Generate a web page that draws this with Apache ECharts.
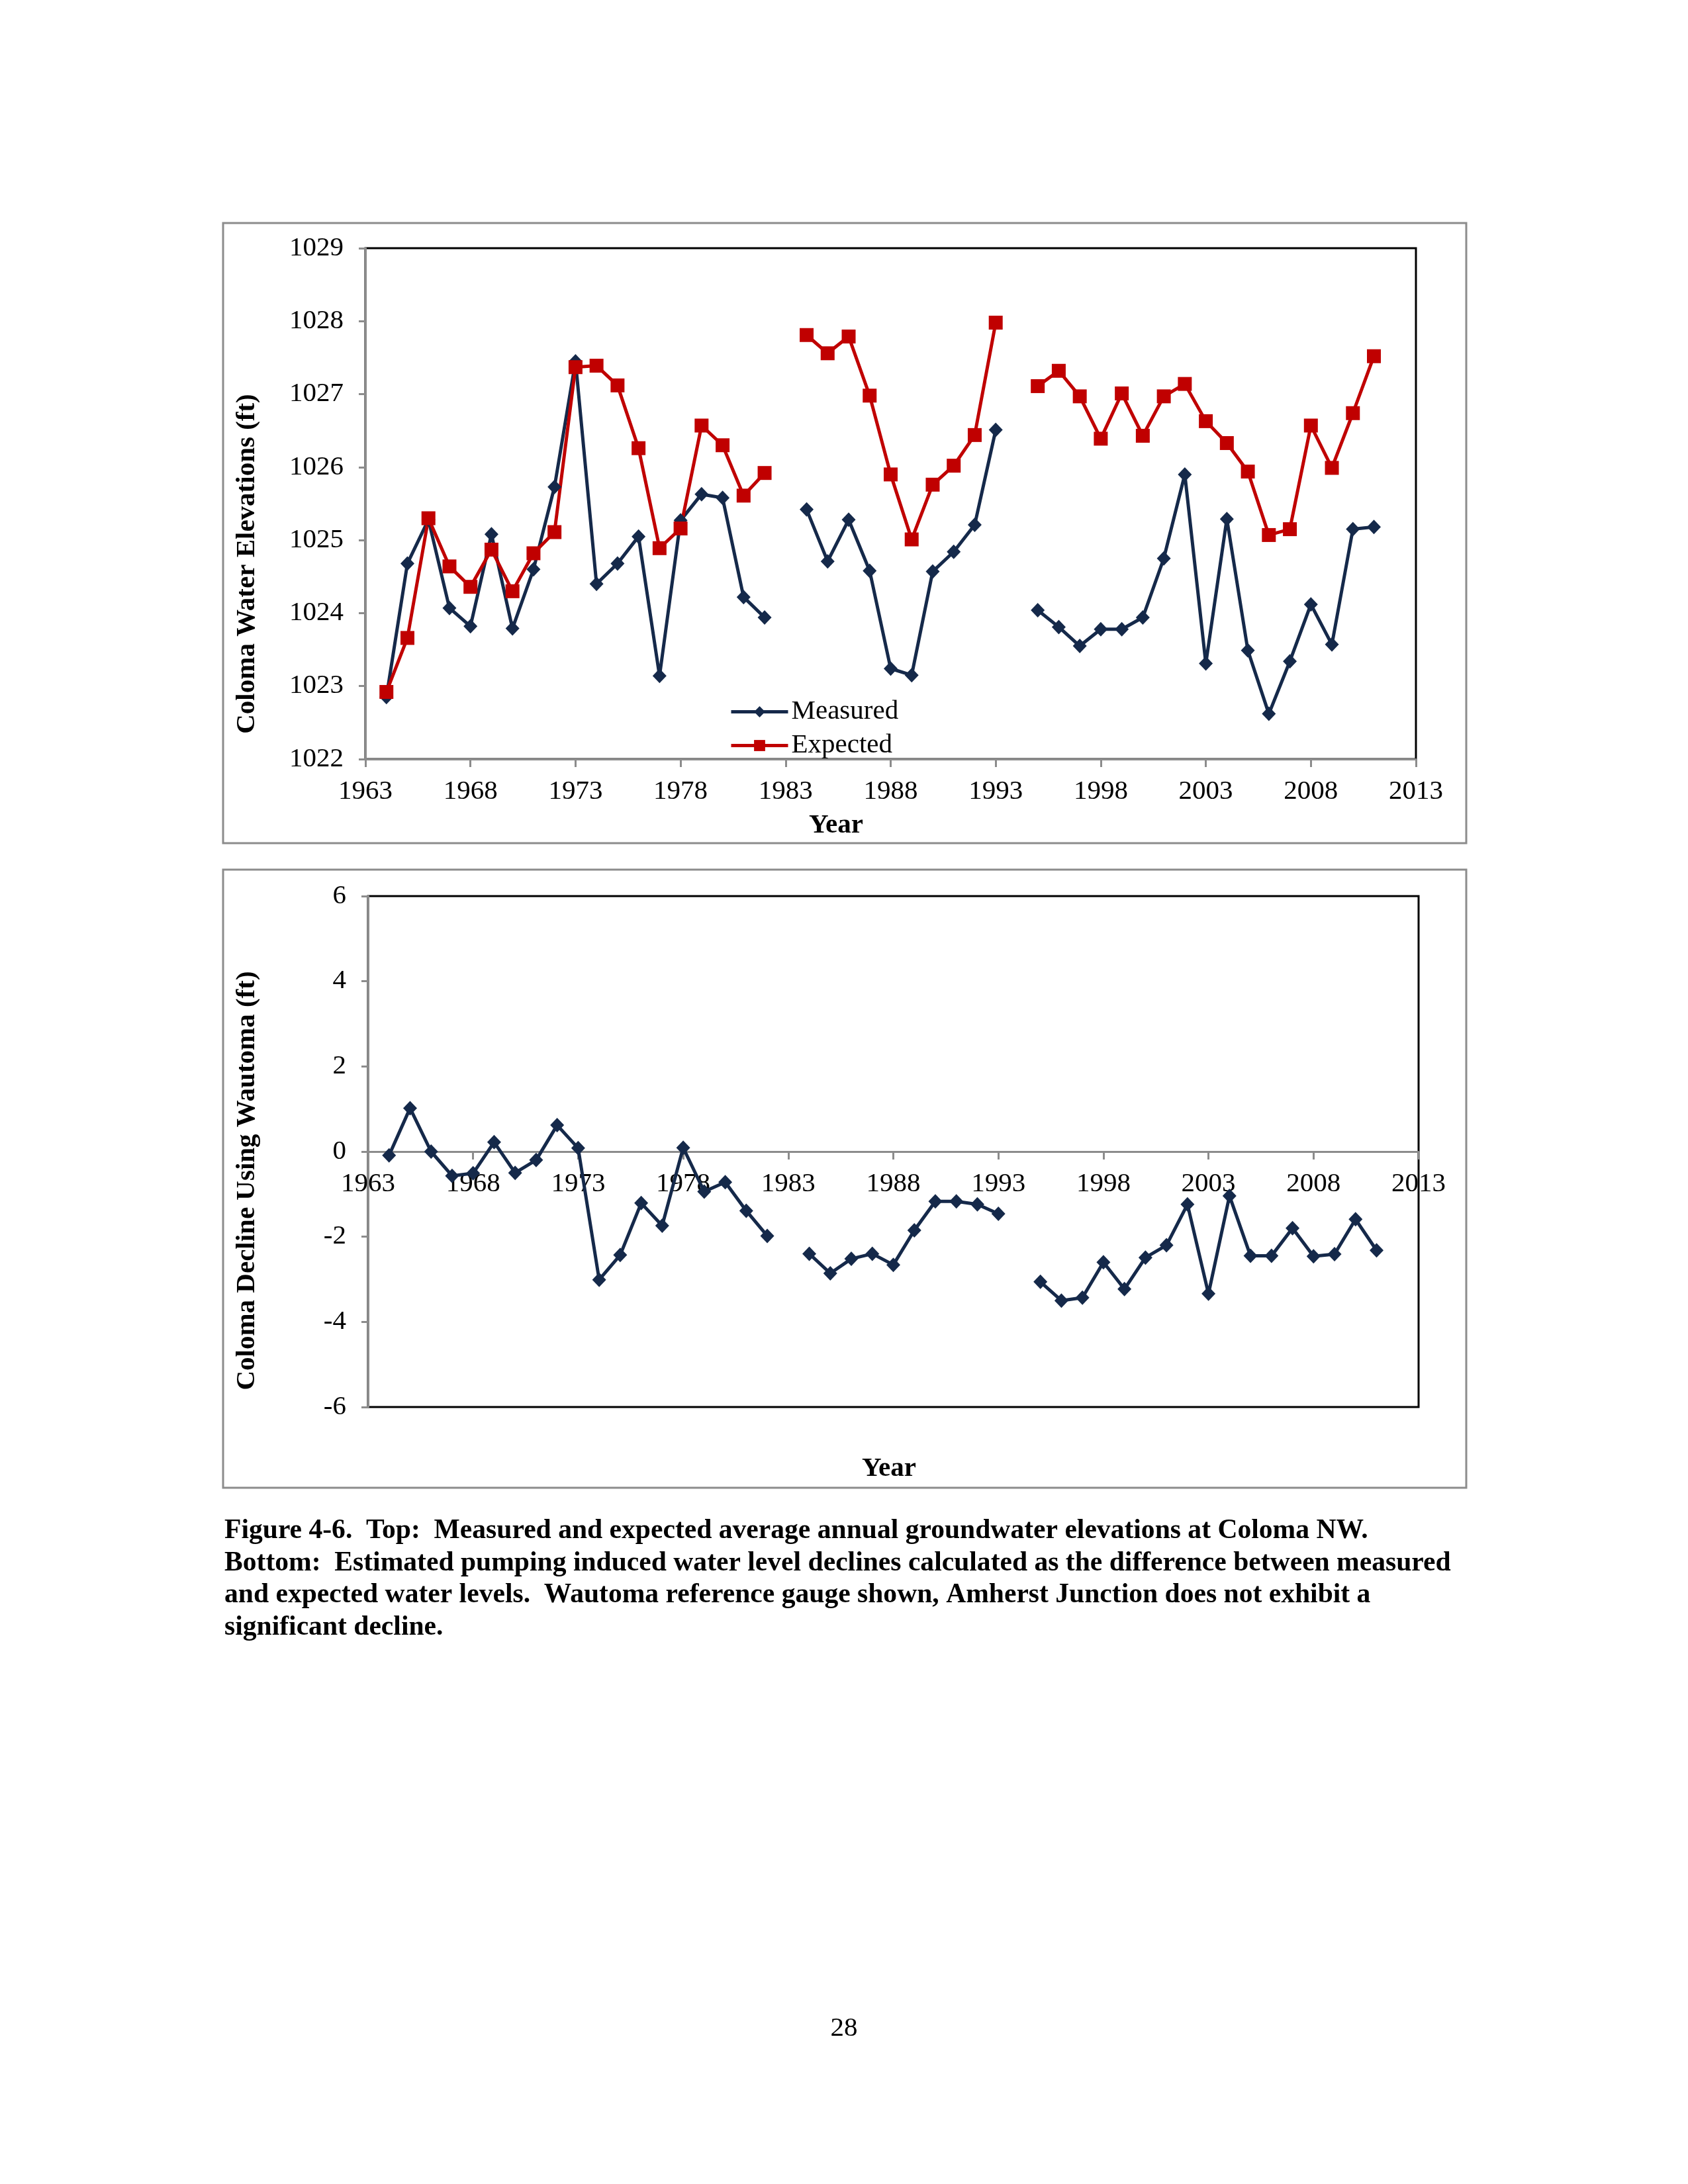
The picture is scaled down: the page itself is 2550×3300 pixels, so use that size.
<!DOCTYPE html>
<html><head><meta charset="utf-8">
<script src="https://cdn.jsdelivr.net/npm/echarts@6/dist/echarts.min.js"></script>
<style>html,body{margin:0;padding:0;background:#fff}#c{width:2550px;height:3300px}</style>
</head><body><div id="c"></div>
<script>
const years = [1964,1965,1966,1967,1968,1969,1970,1971,1972,1973,1974,1975,1976,1977,1978,1979,1980,1981,1982,1983,
  1984,1985,1986,1987,1988,1989,1990,1991,1992,1993,1994,
  1995,1996,1997,1998,1999,2000,2001,2002,2003,2004,2005,2006,2007,2008,2009,2010,2011];
const measured = [1022.85,1024.68,1025.28,1024.07,1023.82,1025.08,1023.79,1024.60,1025.73,1027.45,1024.40,1024.68,1025.05,1023.14,1025.27,1025.63,1025.58,1024.22,1023.94,null,
  1025.42,1024.71,1025.28,1024.58,1023.24,1023.15,1024.57,1024.84,1025.21,1026.51,null,
  1024.04,1023.81,1023.55,1023.78,1023.78,1023.94,1024.75,1025.90,1023.31,1025.29,1023.49,1022.62,1023.34,1024.12,1023.57,1025.15,1025.18];
const expected = [1022.92,1023.66,1025.30,1024.64,1024.36,1024.87,1024.30,1024.82,1025.11,1027.37,1027.39,1027.12,1026.26,1024.89,1025.16,1026.57,1026.30,1025.61,1025.92,null,
  1027.81,1027.56,1027.79,1026.98,1025.90,1025.01,1025.76,1026.02,1026.44,1027.98,null,
  1027.11,1027.32,1026.97,1026.39,1027.01,1026.43,1026.97,1027.14,1026.63,1026.33,1025.94,1025.07,1025.15,1026.57,1025.99,1026.74,1027.52];
const decline = [-0.09,1.02,0.00,-0.57,-0.51,0.22,-0.50,-0.20,0.62,0.08,-3.01,-2.43,-1.21,-1.74,0.09,-0.94,-0.72,-1.39,-1.98,null,
  -2.40,-2.86,-2.52,-2.40,-2.66,-1.85,-1.17,-1.17,-1.24,-1.46,null,
  -3.06,-3.50,-3.43,-2.60,-3.23,-2.49,-2.20,-1.24,-3.34,-1.04,-2.45,-2.45,-1.80,-2.46,-2.41,-1.59,-2.32];
const seriesNames = ['Measured','Expected'];
const topTitleY = 'Coloma Water Elevations (ft)';
const botTitleY = 'Coloma Decline Using Wautoma (ft)';
const xTitle = 'Year';
const captionLines = [
  'Figure 4-6.  Top:  Measured and expected average annual groundwater elevations at Coloma NW.',
  'Bottom:  Estimated pumping induced water level declines calculated as the difference between measured',
  'and expected water levels.  Wautoma reference gauge shown, Amherst Junction does not exhibit a',
  'significant decline.'
];
const pageNumber = '28';

const NAVY = '#15294A', RED = '#C00000', GRAY = '#8C8C8C';
const FONT = '"Liberation Serif","Times New Roman",serif';
const pair = arr => years.map((y, i) => [y, arr[i] === null ? '-' : arr[i]]);
const plain = v => String(v);

const chart = echarts.init(document.getElementById('c'), null, {renderer: 'canvas'});
const xAxisBase = (gi, offset) => ({
  type: 'value', gridIndex: gi, min: 1963, max: 2013, interval: 5, offset: offset,
  axisLine: {show: true, onZero: false, lineStyle: {color: GRAY, width: 3}},
  axisTick: {show: true, inside: false, length: 12, lineStyle: {color: GRAY, width: 3}},
  axisLabel: {fontFamily: FONT, fontSize: 41, color: '#000', margin: 29, formatter: plain},
  splitLine: {show: false}
});
const yAxisBase = (gi, min, max, interval) => ({
  type: 'value', gridIndex: gi, min: min, max: max, interval: interval,
  axisLine: {show: true, onZero: false, lineStyle: {color: GRAY, width: 3}},
  axisTick: {show: true, inside: false, length: 10, lineStyle: {color: GRAY, width: 3}},
  axisLabel: {fontFamily: FONT, fontSize: 41, color: '#000', margin: 33, formatter: plain},
  splitLine: {show: false}
});

chart.setOption({
  animation: false,
  backgroundColor: '#fff',
  grid: [
    {left: 552, top: 375, width: 1587, height: 772, show: true, borderColor: '#000', borderWidth: 3, backgroundColor: 'transparent'},
    {left: 556, top: 1354, width: 1587, height: 772, show: true, borderColor: '#000', borderWidth: 3, backgroundColor: 'transparent'}
  ],
  xAxis: [xAxisBase(0, 0), xAxisBase(1, -386)],
  yAxis: [yAxisBase(0, 1022, 1029, 1), yAxisBase(1, -6, 6, 2)],
  legend: {
    data: seriesNames, orient: 'vertical', left: 1097, top: 1050,
    itemWidth: 86, itemHeight: 21, itemGap: 10,
    lineStyle: {width: 5},
    textStyle: {fontFamily: FONT, fontSize: 41, color: '#000'}
  },
  series: [
    {name: seriesNames[0], type: 'line', xAxisIndex: 0, yAxisIndex: 0, data: pair(measured),
     symbol: 'diamond', symbolSize: [21, 22], connectNulls: false,
     lineStyle: {color: NAVY, width: 5}, itemStyle: {color: NAVY}},
    {name: seriesNames[1], type: 'line', xAxisIndex: 0, yAxisIndex: 0, data: pair(expected),
     symbol: 'rect', symbolSize: 21, connectNulls: false,
     lineStyle: {color: RED, width: 5}, itemStyle: {color: RED}},
    {name: 'Decline', type: 'line', xAxisIndex: 1, yAxisIndex: 1, data: pair(decline),
     symbol: 'diamond', symbolSize: [21, 22], connectNulls: false,
     lineStyle: {color: NAVY, width: 5}, itemStyle: {color: NAVY}}
  ],
  graphic: [
    {type: 'rect', shape: {x: 337, y: 337, width: 1878, height: 937}, style: {fill: 'none', stroke: '#8C8C8C', lineWidth: 3}, z: -1},
    {type: 'rect', shape: {x: 337, y: 1314, width: 1878, height: 934}, style: {fill: 'none', stroke: '#8C8C8C', lineWidth: 3}, z: -1},
    {type: 'text', x: 373, y: 852, rotation: Math.PI / 2,
     style: {text: topTitleY, font: 'bold 41px ' + FONT, fill: '#000', textAlign: 'center', textVerticalAlign: 'middle'}},
    {type: 'text', x: 373, y: 1784, rotation: Math.PI / 2,
     style: {text: botTitleY, font: 'bold 41px ' + FONT, fill: '#000', textAlign: 'center', textVerticalAlign: 'middle'}},
    {type: 'text', x: 1263, y: 1247,
     style: {text: xTitle, font: 'bold 41px ' + FONT, fill: '#000', textAlign: 'center', textVerticalAlign: 'middle'}},
    {type: 'text', x: 1343, y: 2219,
     style: {text: xTitle, font: 'bold 41px ' + FONT, fill: '#000', textAlign: 'center', textVerticalAlign: 'middle'}},
    {type: 'text', x: 339, y: 2313,
     style: {text: captionLines[0], font: 'bold 41.6px ' + FONT, fill: '#000', textAlign: 'left', textVerticalAlign: 'middle'}},
    {type: 'text', x: 339, y: 2362,
     style: {text: captionLines[1], font: 'bold 41.6px ' + FONT, fill: '#000', textAlign: 'left', textVerticalAlign: 'middle'}},
    {type: 'text', x: 339, y: 2410,
     style: {text: captionLines[2], font: 'bold 41.6px ' + FONT, fill: '#000', textAlign: 'left', textVerticalAlign: 'middle'}},
    {type: 'text', x: 339, y: 2459,
     style: {text: captionLines[3], font: 'bold 41.6px ' + FONT, fill: '#000', textAlign: 'left', textVerticalAlign: 'middle'}},
    {type: 'text', x: 1275, y: 3065,
     style: {text: pageNumber, font: '41px ' + FONT, fill: '#000', textAlign: 'center', textVerticalAlign: 'middle'}}
  ]
});
</script></body></html>
